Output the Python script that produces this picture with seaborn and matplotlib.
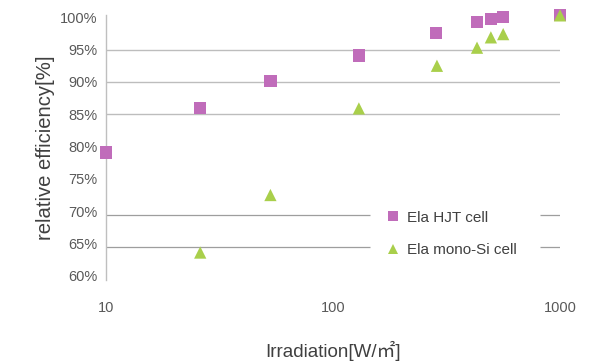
import pandas as pd
import numpy as np
import matplotlib
matplotlib.use("Agg")
import matplotlib.pyplot as plt
import seaborn as sns
from matplotlib.ticker import FuncFormatter, FixedLocator

# datos
irr_hjt = [10, 26, 53, 130, 284, 430, 496, 562, 1000]
eff_hjt = [79.1, 86.0, 90.1, 94.1, 97.6, 99.3, 99.7, 100.1, 100.4]

irr_mono = [26, 53, 130, 287, 431, 496, 562, 1000]
eff_mono = [63.6, 72.5, 85.9, 92.5, 95.3, 96.9, 97.4, 100.3]

series = ["Ela HJT cell", "Ela mono-Si cell"]
y_ticks = [60, 65, 70, 75, 80, 85, 90, 95, 100]
x_ticks = [10, 100, 1000]

df = pd.concat([
    pd.DataFrame({"irr": irr_hjt, "eff": eff_hjt, "cell": series[0]}),
    pd.DataFrame({"irr": irr_mono, "eff": eff_mono, "cell": series[1]}),
])

sns.set_style("white")
plt.rcParams['font.family'] = ['Liberation Sans', 'Noto Sans CJK JP', 'DejaVu Sans']
gris = "#595959"

fig = plt.figure(figsize=(5.97, 3.62), dpi=100)
ax = fig.add_axes([0.1776, 0.2265, 0.7604, 0.7321])

# lineas de fondo
for v in [95, 90, 85]:
    ax.hlines(v, 10, 1000, color="#BDBDBD", lw=1.0, zorder=0)
for v in [69.4, 64.4]:
    ax.hlines(v, 10, 146, color="#9E9E9E", lw=0.9, zorder=0)
    ax.hlines(v, 816, 1000, color="#9E9E9E", lw=0.9, zorder=0)

sns.scatterplot(data=df, x="irr", y="eff", hue="cell", style="cell",
                palette={series[0]: "#C06CBA", series[1]: "#A9CF4B"},
                markers={series[0]: "s", series[1]: "^"},
                s=78, edgecolor="none", linewidth=0, ax=ax, clip_on=False,
                zorder=3)

ax.set_xscale("log")
ax.set_xlim(10, 1000)
ax.set_ylim(59.35, 100.36)
ax.xaxis.set_major_locator(FixedLocator(x_ticks))
ax.xaxis.set_minor_locator(FixedLocator([]))
ax.xaxis.set_major_formatter(FuncFormatter(lambda v, p: f"{v:g}"))
ax.yaxis.set_major_locator(FixedLocator(y_ticks))
ax.yaxis.set_major_formatter(FuncFormatter(lambda v, p: f"{v:.0f}%"))
ax.tick_params(axis="both", length=0, labelsize=10.5, colors=gris)
ax.tick_params(axis="x", pad=15)
ax.tick_params(axis="y", pad=6)

for s in ["top", "right", "bottom"]:
    ax.spines[s].set_visible(False)
ax.spines["left"].set_color("#BFBFBF")
ax.spines["left"].set_linewidth(1.0)

ax.set_xlabel("Irradiation[W/㎡]", fontsize=13.5, color="#404040", labelpad=19)
ax.set_ylabel("relative efficiency[%]", fontsize=14.6, color="#404040", labelpad=4)

leg = ax.legend(loc="upper left", bbox_to_anchor=(0.585, 0.285), frameon=False,
                fontsize=11, labelspacing=1.2, handletextpad=-0.1,
                markerscale=0.8, borderaxespad=0)
for t in leg.get_texts():
    t.set_color("#404040")

fig.savefig("out.png", dpi=100)
